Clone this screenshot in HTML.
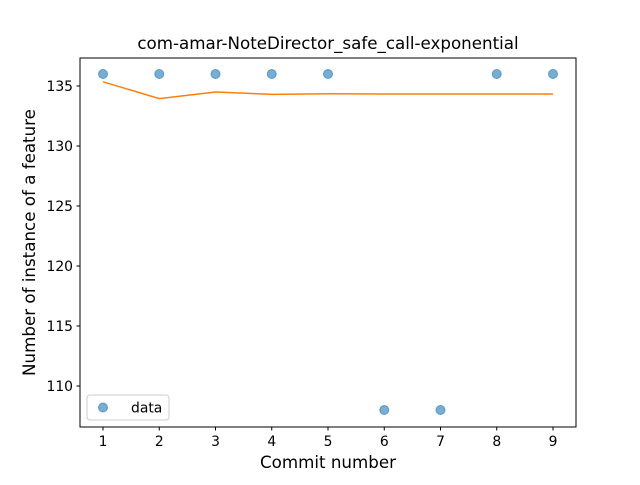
<!DOCTYPE html>
<html><head><meta charset="utf-8"><style>
body{margin:0;background:#fff;font-family:"Liberation Sans","DejaVu Sans",sans-serif;}
svg text{font-family:"DejaVu Sans","Liberation Sans",sans-serif;fill:#000;}
</style></head><body>
<svg id="chart" width="640" height="480" xmlns="http://www.w3.org/2000/svg">
<rect width="640" height="480" fill="#fff"/>
<text x="328" y="49" font-size="16.7" text-anchor="middle">com-amar-NoteDirector_safe_call-exponential</text>
<g id="grid"></g>
<g id="marks"></g>
<rect x="80" y="58" width="496" height="369" fill="none" stroke="#000" stroke-width="1"/>
<text x="328" y="468" font-size="16.7" text-anchor="middle">Commit number</text>
<text transform="translate(35,242.5) rotate(-90)" font-size="16.7" text-anchor="middle">Number of instance of a feature</text>
<g>
<rect x="87" y="395" width="82" height="25" rx="3" fill="#fff" stroke="#ccc"/>
<circle cx="103" cy="407.5" r="4.5" fill="#1f77b4" fill-opacity="0.6" stroke="#1f77b4" stroke-opacity="0.6"/>
<text x="131" y="412.5" font-size="13.9">data</text>
</g>
</svg>
<script>
const commits = [1,2,3,4,5,6,7,8,9];
const dataValues = [136,136,136,136,136,108,108,136,136];
const fitValues = [135.35,133.95,134.5,134.3,134.35,134.33,134.33,134.33,134.33];
const xTicks = [1,2,3,4,5,6,7,8,9];
const yTicks = [110,115,120,125,130,135];
const xs = v => 103 + (v-1)*56.25;
const ys = v => 86 - (v-135)*12;
const NS="http://www.w3.org/2000/svg";
const g=document.getElementById('grid'), m=document.getElementById('marks');
function mk(tag,attrs,parent){const e=document.createElementNS(NS,tag);for(const k in attrs)e.setAttribute(k,attrs[k]);parent.appendChild(e);return e;}
xTicks.forEach(t=>{
  const l=mk('line',{x1:xs(t),x2:xs(t),y1:427,y2:430.5,stroke:'#000'},g);
  
  
  const tx=mk('text',{x:xs(t),y:446,'font-size':'13.9','text-anchor':'middle'},g);tx.textContent=t;
  
  
});
yTicks.forEach(t=>{
  const l=mk('line',{x1:76.5,x2:80,y1:ys(t),y2:ys(t),stroke:'#000'},g);
  
  
  const tx=mk('text',{x:73,y:ys(t)+5,'font-size':'13.9','text-anchor':'end'},g);tx.textContent=t;
  
  
});
commits.forEach((c,i)=>{
  const p=mk('circle',{cx:xs(c),cy:ys(dataValues[i]),r:4.5,fill:'#1f77b4','fill-opacity':0.6,stroke:'#1f77b4','stroke-opacity':0.6},m);
  
  
});
const pl=mk('polyline',{points:commits.map((c,i)=>xs(c)+','+ys(fitValues[i])).join(' '),fill:'none',stroke:'#ff7f0e','stroke-width':1.5},m);


</script>
</body></html>
